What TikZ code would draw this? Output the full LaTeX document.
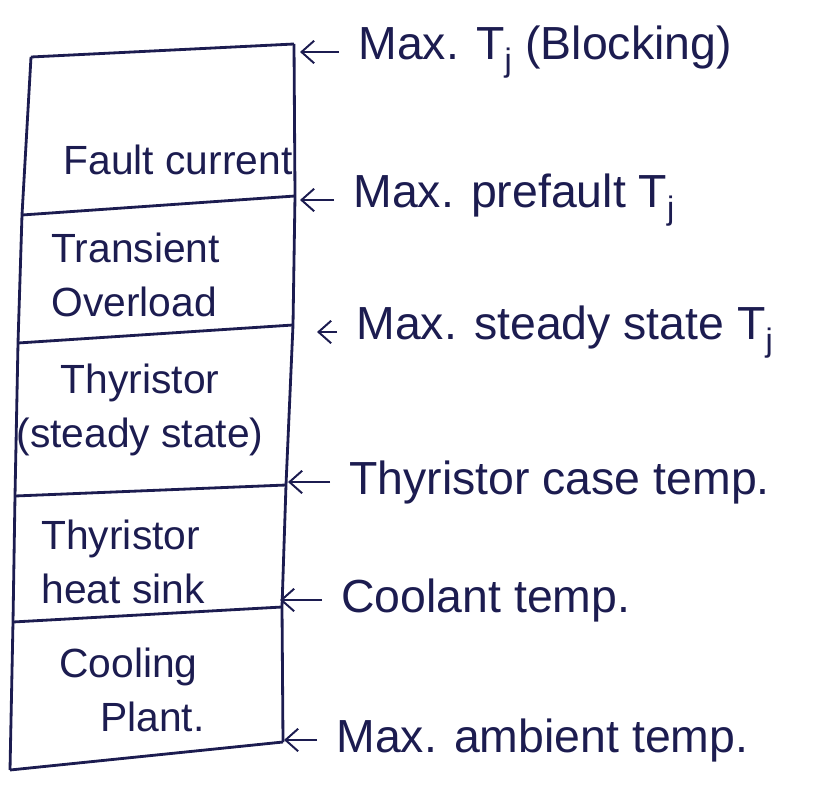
\documentclass[tikz,border=0pt]{standalone}
\usepackage{fontspec}
\setmainfont{Liberation Sans}
\usetikzlibrary{arrows.meta}
\definecolor{ink}{RGB}{28,28,80}
\tikzset{
	layer/.style={font=\fontsize{29}{38}\selectfont, inner sep=0pt},
	temp/.style={font=\fontsize{33}{38}\selectfont, anchor=west, inner sep=0pt},
	pointer/.style={-{Straight Barb[length=9pt,width=16pt]}, line width=1.4pt, shorten <=0.45cm}
}
\begin{document}
\begin{tikzpicture}[x=0.025cm,y=-0.025cm,color=ink,line width=2pt]
	\useasboundingbox (0,0) rectangle (826,787);
	%BOX EDGES
	\coordinate (l0) at (31,57);	\coordinate (r0) at (294,44);
	\coordinate (l1) at (22,215);	\coordinate (r1) at (295,196);
	\coordinate (l2) at (18,343);	\coordinate (r2) at (293,325);
	\coordinate (l3) at (15,496);	\coordinate (r3) at (286,485);
	\coordinate (l4) at (13,622);	\coordinate (r4) at (282,607);
	\coordinate (l5) at (10,770);	\coordinate (r5) at (283,742);
	\draw (l0)--(l1)--(l2)--(l3)--(l4)--(l5);
	\draw (r0)--(r1)--(r2)--(r3)--(r4)--(r5);
	\foreach \n in {0,...,5}
		\draw (l\n)--(r\n);
	%LAYERS
	\node[layer] (fault) at (178,160) {Fault current};
	\node[layer, align=left, anchor=west] (overload) at (50,275) {Transient\\Overload};
	\node[layer, align=center] (steady) at (140,410) {Thyristor\\(steady state)};
	\node[layer, align=left, anchor=west] (sink) at (40,562) {Thyristor\\heat sink};
	\node[layer, align=left, anchor=west] (plant) at (58,690) {Cooling\\\hspace{1em}Plant.};
	%TEMPERATURES
	\node[temp] (blocking) at (357,52) {Max. T\textsubscript{j} (Blocking)};
	\node[temp] (prefault) at (352,200) {Max. prefault T\textsubscript{j}};
	\node[temp] (maxsteady) at (355,332) {Max. steady state T\textsubscript{j}};
	\node[temp] (case) at (348,482) {Thyristor case temp.};
	\node[temp] (coolant) at (340,600) {Coolant temp.};
	\node[temp] (ambient) at (335,740) {Max. ambient temp.};
	\coordinate (p1) at (300,52);
	\coordinate (p2) at (300,200);
	\coordinate (p3) at (317,332);
	\coordinate (p4) at (288,482);
	\coordinate (p5) at (280,600);
	\coordinate (p6) at (284,740);
	\draw[pointer] (blocking.west)--(p1);
	\draw[pointer] (prefault.west)--(p2);
	\draw[pointer] (maxsteady.west)--(p3);
	\draw[pointer] (case.west)--(p4);
	\draw[pointer] (coolant.west)--(p5);
	\draw[pointer] (ambient.west)--(p6);
\end{tikzpicture}
\end{document}
